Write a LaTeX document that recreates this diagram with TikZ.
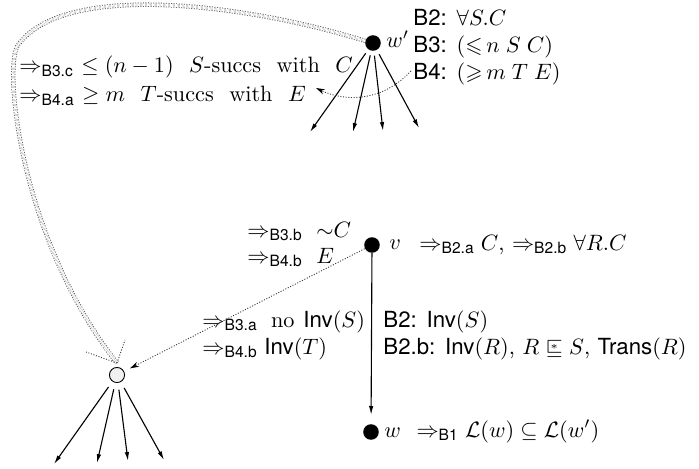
\documentclass[tikz,border=0pt]{standalone}
\usepackage{amsmath,amssymb}
\usepackage{fontspec}
\setsansfont{TeX Gyre Heros}
\usetikzlibrary{arrows.meta}
\newcommand{\rimp}[1]{\Rightarrow_{\textsf{#1}}}
\newcommand{\sqstar}{\mathrel{\ooalign{$\sqsubseteq$\cr\hidewidth\raise0.5ex\hbox{$\scriptscriptstyle *$}\hidewidth\cr}}}
\newcommand{\wsp}{\hspace{7pt}}
\begin{document}
\begin{tikzpicture}[x=0.45pt,y=-0.45pt,
  dot/.style={circle,fill=black,inner sep=0pt,minimum size=7pt},
  gdot/.style={circle,draw=black,fill=black!6,line width=0.4pt,inner sep=0pt,minimum size=6.8pt},
  lbl/.style={anchor=base west,inner sep=0pt},
  arr/.style={-{Latex[length=4pt,width=2pt]},line width=0.5pt},
  dotline/.style={line width=0.4pt,dash pattern=on 0.45pt off 0.75pt,black!80},
  dotarr/.style={dotline,-{Stealth[length=4pt,width=2.4pt,black]}},
  dbl/.style={double,double distance=1.3pt,line width=0.35pt,dash pattern=on 0.45pt off 0.7pt,draw=black!70}]
\useasboundingbox (0,0) rectangle (699,468);
% nodes
\node[dot] (wp) at (373,43) {};
\node[dot] (v) at (372,245) {};
\node[dot] (w) at (371,432) {};
\node[gdot] (g) at (117,375) {};
% labels at w'
\node[lbl] (lwp) at (386,48) {$w'$};
\node[lbl] (b2) at (413,26) {\textsf{B2:} $\forall S.C$};
\node[lbl] (b3) at (413,53) {\textsf{B3:} $({\leqslant}\, n\; S\; C)$};
\node[lbl] (b4) at (413,80) {\textsf{B4:} $({\geqslant}\, m\; T\; E)$};
\node[lbl] (l1) at (19,73) {$\rimp{B3.c}\ \leq (n-1)$\wsp$S$-succs\wsp with\wsp$C$};
\node[lbl] (l2) at (19,102) {$\rimp{B4.a}\ \geq m$\wsp$T$-succs\wsp with\wsp$E$};
% labels at v
\node[lbl] (lv) at (389,249) {$v$};
\node[lbl] (lv2) at (419,250) {$\rimp{B2.a} C$, $\rimp{B2.b} \forall R.C$};
\node[lbl] (lb3b) at (247,237) {$\rimp{B3.b}\ {\sim}C$};
\node[lbl] (lb4b) at (247,263) {$\rimp{B4.b}\ E$};
% middle labels
\node[lbl] (la1) at (202,327) {$\rimp{B3.a}$\hspace{6pt}no\hspace{4pt}$\textsf{Inv}(S)$};
\node[lbl] (la2) at (202,354) {$\rimp{B4.b}$\hspace{3pt}$\textsf{Inv}(T)$};
\node[lbl] (lr1) at (383,327) {\textsf{B2:} $\textsf{Inv}(S)$};
\node[lbl] (lr2) at (383,354) {\textsf{B2.b:} $\textsf{Inv}(R)$, $R \sqstar S$, $\textsf{Trans}(R)$};
% label at w
\node[lbl] (lw) at (384,437) {$w$\hspace{7pt}$\rimp{B1} \mathcal{L}(w) \subseteq \mathcal{L}(w')$};
% successor arrows of w'
\coordinate (t1) at (310,132);
\coordinate (t2) at (353,132);
\coordinate (t3) at (383,131);
\coordinate (t4) at (419,128);
\foreach \t in {t1,t2,t3,t4} \draw[arr,shorten <=2pt] (wp) -- (\t);
% successor arrows of gray node
\coordinate (s1) at (54,464);
\coordinate (s2) at (97,463);
\coordinate (s3) at (128,461);
\coordinate (s4) at (164,460);
\foreach \t in {s1,s2,s3,s4} \draw[arr,shorten <=3pt] (g) -- (\t);
% v to w
\draw[arr,shorten >=4pt] (v) -- (w);
% dotted v to gray
\draw[dotarr,shorten >=3pt] (v) -- (g);
% dotted from B4 to E
\coordinate (b4s) at (411,71);
\coordinate (e4) at (316,88);
\draw[dotarr] (b4s) .. controls (382,102) and (345,102) .. (e4);
% double dotted curve w' to gray
\coordinate (tip) at (117,363);
\draw[dbl] (wp.165) .. controls (250,5) and (65,-20) .. (18,45) .. controls (3,66) and (20,240) .. (tip);
\draw[dotline] (tip) -- ++(-31,-11);
\draw[dotline] (tip) -- ++(8,-23);
\end{tikzpicture}
\end{document}
